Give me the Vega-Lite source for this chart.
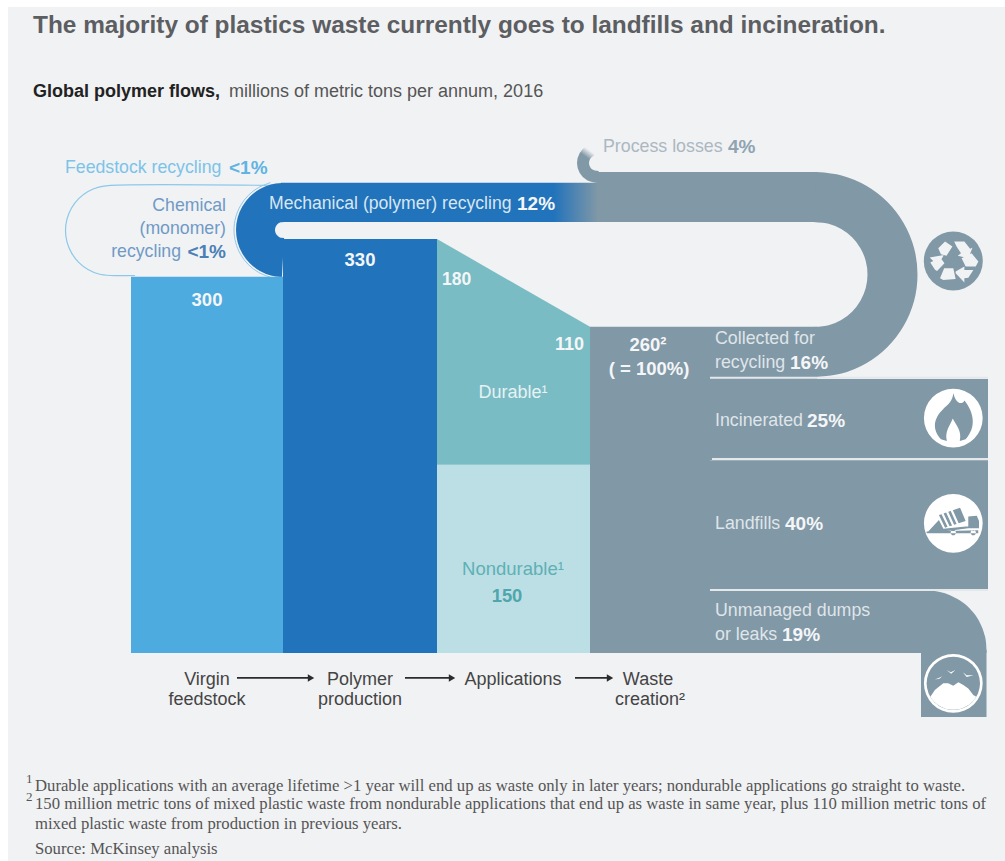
{
  "$schema": "https://vega.github.io/schema/vega-lite/v6.json",
  "width": 1005,
  "height": 861,
  "autosize": {"type": "fit", "contains": "padding"},
  "padding": 0,
  "background": "#ffffff",
  "view": {"stroke": null},
  "config": {"text": {"dy": 1}},
  "encoding": {
    "x": {"field": "x", "type": "quantitative", "scale": {"domain": [0, 1005], "nice": false, "zero": false}, "axis": null},
    "y": {"field": "y", "type": "quantitative", "scale": {"domain": [-165.8, 520.5], "nice": false, "zero": false}, "axis": null}
  },
  "layer": [
    {
      "data": {"values": [{"x": 8, "x2": 1005, "y": 514.9, "y2": -165.8}]},
      "mark": {"type": "rect", "color": "#f1f2f4"},
      "encoding": {"x2": {"field": "x2"}, "y2": {"field": "y2"}}
    },
    {
      "description": "Chemical recycling loop outline",
      "data": {"values": [
        {"n": 0, "x": 272, "y": 372.7}, {"n": 1, "x": 110.5, "y": 372.7}, {"n": 2, "x": 98.85, "y": 371.4},
        {"n": 3, "x": 88, "y": 367.9}, {"n": 4, "x": 78.68, "y": 362.2}, {"n": 5, "x": 71.53, "y": 354.7},
        {"n": 6, "x": 67.03, "y": 346.1}, {"n": 7, "x": 65.5, "y": 336.8}, {"n": 8, "x": 67.03, "y": 327.5},
        {"n": 9, "x": 71.53, "y": 318.9}, {"n": 10, "x": 78.68, "y": 311.4}, {"n": 11, "x": 88, "y": 305.7},
        {"n": 12, "x": 98.85, "y": 302.1}, {"n": 13, "x": 110.5, "y": 300.9}, {"n": 14, "x": 135, "y": 300.9}
      ]},
      "mark": {"type": "line", "interpolate": "catmull-rom", "stroke": "#8cc8ea", "strokeWidth": 1.2},
      "encoding": {"order": {"field": "n", "type": "quantitative"}}
    },
    {
      "data": {"values": [
        {"n": 0, "x": 270.3, "y": 374.9}, {"n": 1, "x": 258.5, "y": 371}, {"n": 2, "x": 248.35, "y": 364.8},
        {"n": 3, "x": 240.6, "y": 356.7}, {"n": 4, "x": 235.7, "y": 347.3}, {"n": 5, "x": 234, "y": 337.2},
        {"n": 6, "x": 235.7, "y": 327.1}, {"n": 7, "x": 240.6, "y": 317.7}, {"n": 8, "x": 248.35, "y": 309.6},
        {"n": 9, "x": 258.5, "y": 303.4}, {"n": 10, "x": 270.3, "y": 299.5}
      ]},
      "mark": {"type": "line", "interpolate": "catmull-rom", "stroke": "#8cc8ea", "strokeWidth": 1},
      "encoding": {"order": {"field": "n", "type": "quantitative"}}
    },
    {
      "description": "Mechanical recycling ribbon, fading from waste grey into polymer blue",
      "data": {"values": [{"x": 281, "x2": 598, "y": 374.8, "y2": 343.6}]},
      "mark": {"type": "rect", "color": {"gradient": "linear", "x1": 0, "y1": 0, "x2": 1, "y2": 0, "stops": [
        {"offset": 0, "color": "#2173bb"}, {"offset": 0.86, "color": "#2173bb"}, {"offset": 1, "color": "#8198a6"}
      ]}},
      "encoding": {"x2": {"field": "x2"}, "y2": {"field": "y2"}}
    },
    {
      "data": {"values": [
        {"n": 0, "x": 283, "y": 359.1}, {"n": 1, "x": 275.88, "y": 358.4}, {"n": 2, "x": 269.25, "y": 356.2},
        {"n": 3, "x": 263.55, "y": 352.7}, {"n": 4, "x": 259.18, "y": 348.1}, {"n": 5, "x": 256.44, "y": 342.9},
        {"n": 6, "x": 255.5, "y": 337.2}, {"n": 7, "x": 256.44, "y": 331.5}, {"n": 8, "x": 259.18, "y": 326.2},
        {"n": 9, "x": 263.55, "y": 321.7}, {"n": 10, "x": 269.25, "y": 318.2}, {"n": 11, "x": 275.88, "y": 316},
        {"n": 12, "x": 283, "y": 315.3}
      ]},
      "mark": {"type": "line", "interpolate": "catmull-rom", "stroke": "#2173bb", "strokeWidth": 39, "strokeCap": "butt"},
      "encoding": {"order": {"field": "n", "type": "quantitative"}}
    },
    {
      "description": "Stages and waste fates, in millions of metric tons",
      "data": {"values": [
        {"group": "Virgin feedstock", "x": 131, "x2": 283, "y": 300, "y2": 0},
        {"group": "Polymer production", "x": 283, "x2": 437, "y": 330, "y2": 0},
        {"group": "Nondurable", "x": 437, "x2": 590, "y": 150, "y2": 0},
        {"group": "Waste", "x": 590, "x2": 710, "y": 260, "y2": 0},
        {"group": "Waste", "x": 710, "x2": 817, "y": 260, "y2": 218.4},
        {"group": "Waste", "x": 710, "x2": 988, "y": 218.4, "y2": 153.4},
        {"group": "Waste", "x": 710, "x2": 988, "y": 153.4, "y2": 49.4},
        {"group": "Waste", "x": 710, "x2": 921, "y": 49.4, "y2": 0},
        {"group": "Waste", "x": 921, "x2": 986.5, "y": 2.4, "y2": -51},
        {"group": "Waste", "x": 597, "x2": 817, "y": 383.4, "y2": 343.6}
      ]},
      "mark": {"type": "rect"},
      "encoding": {
        "x2": {"field": "x2"},
        "y2": {"field": "y2"},
        "color": {"field": "group", "type": "nominal", "legend": null, "scale": {
          "domain": ["Virgin feedstock", "Polymer production", "Durable", "Nondurable", "Waste"],
          "range": ["#4eabdf", "#2173bb", "#79bcc4", "#bbdfe4", "#8198a6"]
        }}
      }
    },
    {
      "description": "Durable wedge narrows from 180 to 110 on top of the nondurable 150",
      "data": {"values": [
        {"x": 437, "y": 330, "y2": 150},
        {"x": 590, "y": 260, "y2": 150}
      ]},
      "mark": {"type": "area", "color": "#79bcc4"},
      "encoding": {"y2": {"field": "y2"}}
    },
    {
      "description": "Corner of the unmanaged dumps band",
      "data": {"values": [
        {"x": 921, "y": 49.4}, {"x": 927, "y": 49.8}, {"x": 940, "y": 48.7}, {"x": 950, "y": 46.1},
        {"x": 960, "y": 41.8}, {"x": 970, "y": 35.2}, {"x": 980, "y": 23.9}, {"x": 984, "y": 15.9},
        {"x": 986, "y": 8.5}, {"x": 986.5, "y": 2.4}
      ]},
      "mark": {"type": "area", "color": "#8198a6", "interpolate": "monotone"},
      "encoding": {"y2": {"datum": 0}}
    },
    {
      "description": "Recycling U-turn",
      "data": {"values": [
        {"n": 0, "x": 815, "y": 363.5}, {"n": 1, "x": 835.1, "y": 361.4}, {"n": 2, "x": 853.8, "y": 355.2},
        {"n": 3, "x": 869.8, "y": 345.4}, {"n": 4, "x": 882.1, "y": 332.6}, {"n": 5, "x": 889.9, "y": 317.7},
        {"n": 6, "x": 892.5, "y": 301.7}, {"n": 7, "x": 889.9, "y": 285.7}, {"n": 8, "x": 882.1, "y": 270.8},
        {"n": 9, "x": 869.8, "y": 258}, {"n": 10, "x": 853.8, "y": 248.2}, {"n": 11, "x": 835.1, "y": 242},
        {"n": 12, "x": 815, "y": 239.9}
      ]},
      "mark": {"type": "line", "interpolate": "catmull-rom", "stroke": "#8198a6", "strokeWidth": 50, "strokeCap": "butt"},
      "encoding": {"order": {"field": "n", "type": "quantitative"}}
    },
    {
      "description": "Process losses curl",
      "data": {"values": [
        {"n": 0, "x": 598, "y": 379.4}, {"n": 1, "x": 590, "y": 380.95}, {"n": 2, "x": 584.9, "y": 385},
        {"n": 3, "x": 583, "y": 390.6}, {"n": 4, "x": 584.9, "y": 396.2}, {"n": 5, "x": 590, "y": 400.2},
        {"n": 6, "x": 593, "y": 401.1}
      ]},
      "mark": {"type": "line", "interpolate": "catmull-rom", "strokeWidth": 12, "strokeCap": "butt", "stroke": {
        "gradient": "linear", "x1": 0, "y1": 1, "x2": 0.4, "y2": 0, "stops": [
          {"offset": 0, "color": "#8198a6"}, {"offset": 0.7, "color": "#8198a6"}, {"offset": 1, "color": "#f1f2f4"}
        ]}},
      "encoding": {"order": {"field": "n", "type": "quantitative"}}
    },
    {
      "description": "Light separators between the waste fates",
      "data": {"values": [
        {"x": 710, "x2": 988, "y": 219.4},
        {"x": 712, "x2": 988, "y": 154.6},
        {"x": 710, "x2": 988, "y": 50.2}
      ]},
      "mark": {"type": "rule", "color": "#e4e8eb", "strokeWidth": 2},
      "encoding": {"x2": {"field": "x2"}}
    },
    {
      "data": {"values": [{"x": 953.3, "y": 312.5}]},
      "mark": {"type": "point", "shape": "circle", "filled": true, "size": 3481, "color": "#8198a6", "opacity": 1}
    },
    {
      "description": "Recycling arrows",
      "data": {"values": [{"x": 953.3, "y": 312.5}]},
      "mark": {"type": "point", "filled": true, "size": 3481, "color": "#f1f2f4", "opacity": 1,
        "shape": "M-0.51,-0.43L-0.28,-0.66L-0.03,-0.49L-0.23,-0.18L-0.42,-0.23ZM0.03,-0.66L0.375,-0.66L0.57,-0.41L0.65,-0.45L0.51,-0.09L0.15,-0.18L0.26,-0.26L0.11,-0.49ZM0.28,-0.09L0.62,-0.26L0.85,0.02L0.76,0.19L0.42,0.19ZM0.08,0.36L0.375,0.19L0.375,0.31L0.68,0.31L0.51,0.57L0.375,0.59L0.375,0.73L0.08,0.42ZM-0.45,0.59L-0.31,0.25L0,0.25L0.08,0.61L-0.34,0.65ZM-0.8,-0.12L-0.32,-0.2L-0.4,-0.06L-0.3,0.08L-0.55,0.34L-0.62,0.3L-0.78,0.05L-0.68,0Z"}
    },
    {
      "description": "Discs behind the flame, truck and mound icons",
      "data": {"values": [{"x": 953.3, "y": 187.3}, {"x": 953.3, "y": 103.4}, {"x": 953.3, "y": -24.2}]},
      "mark": {"type": "point", "shape": "circle", "filled": true, "size": 3450, "color": "#ffffff", "opacity": 1}
    },
    {
      "description": "Flame",
      "data": {"values": [{"x": 953.3, "y": 187.3}]},
      "mark": {"type": "point", "filled": true, "size": 3450, "color": "#8198a6", "opacity": 1,
        "shape": "M0,-0.85C0.1,-0.45 0.3,-0.45 0.38,-0.6C0.7,-0.2 0.8,0.3 0.42,0.72L0.22,0.78C0.3,0.45 0.1,0.25 -0.02,0.02C-0.1,0.25 -0.3,0.45 -0.22,0.78L-0.42,0.72C-0.75,0.35 -0.65,0 -0.35,-0.3C-0.2,-0.45 -0.02,-0.55 0,-0.85Z"}
    },
    {
      "description": "Dump truck",
      "data": {"values": [{"x": 953.3, "y": 103.4}]},
      "mark": {"type": "point", "filled": true, "size": 3450, "color": "#8198a6", "opacity": 1,
        "shape": "M-0.49,-0.28L-0.4,-0.31L-0.196,0.122L-0.28,0.15ZM-0.33,-0.335L-0.245,-0.365L-0.042,0.072L-0.126,0.1ZM-0.173,-0.39L-0.087,-0.42L0.112,0.021L0.028,0.049ZM-0.015,-0.445L0.23,-0.53L0.42,-0.08L0.182,-0.002ZM0.51,-0.23L0.8,-0.26L0.875,-0.08L0.875,0.17L0.51,0.17ZM-0.34,0.19L0.51,0.1L0.51,0.17L-0.34,0.28ZM-0.91,0.34L-0.49,-0.11L-0.26,0.34ZM-0.91,0.28L0.85,0.24L0.85,0.34L-0.91,0.34ZM-0.09,0.32a0.09,0.09 0 1,0 0.18,0a0.09,0.09 0 1,0 -0.18,0ZM0.59,0.32a0.09,0.09 0 1,0 0.18,0a0.09,0.09 0 1,0 -0.18,0Z"}
    },
    {
      "data": {"values": [{"x": 953.3, "y": -24.2}]},
      "mark": {"type": "point", "shape": "circle", "filled": true, "size": 2850, "color": "#8198a6", "opacity": 1}
    },
    {
      "description": "Dump mound and birds",
      "data": {"values": [{"x": 953.3, "y": -24.2}]},
      "mark": {"type": "point", "filled": true, "size": 2850, "color": "#ffffff", "opacity": 1,
        "shape": "M-0.86,0.5L-0.69,0.25L-0.54,0.125L-0.375,0L-0.19,0L0,0.09L0.19,-0.04L0.375,0.06L0.56,0.19L0.75,0.44L0.86,0.5A1,1 0 0 1 -0.86,0.5ZM-0.69,-0.14L-0.55,-0.2L-0.41,-0.27L-0.52,-0.17ZM-0.25,-0.5L-0.1,-0.42L0.08,-0.5L-0.08,-0.36ZM0.36,-0.42L0.5,-0.3L0.76,-0.3L0.5,-0.24Z"}
    },
    {
      "description": "Stage flow arrows",
      "data": {"values": [
        {"x": 237, "x2": 310, "y": -19.9},
        {"x": 405, "x2": 450, "y": -19.9},
        {"x": 575, "x2": 608, "y": -19.9}
      ]},
      "mark": {"type": "rule", "color": "#2b2b2b", "strokeWidth": 1.8},
      "encoding": {"x2": {"field": "x2"}}
    },
    {
      "data": {"values": [{"x": 311, "y": -19.9}, {"x": 452, "y": -19.9}, {"x": 610, "y": -19.9}]},
      "mark": {"type": "point", "shape": "triangle-right", "filled": true, "size": 55, "color": "#2b2b2b", "opacity": 1}
    },
    {
      "data": {"values": [{"x": 33, "y": 500.6, "label": "The majority of plastics waste currently goes to landfills and incineration."}]},
      "mark": {"type": "text", "align": "left", "baseline": "middle", "font": "Liberation Sans", "fontWeight": "bold", "fontSize": 24.4, "color": "#5c5e62"},
      "encoding": {"text": {"field": "label"}}
    },
    {
      "data": {"values": [{"x": 33, "y": 448, "label": "Global polymer flows,"}]},
      "mark": {"type": "text", "align": "left", "baseline": "middle", "font": "Liberation Sans", "fontWeight": "bold", "fontSize": 18, "color": "#222222"},
      "encoding": {"text": {"field": "label"}}
    },
    {
      "data": {"values": [{"x": 229, "y": 448, "label": "millions of metric tons per annum, 2016"}]},
      "mark": {"type": "text", "align": "left", "baseline": "middle", "font": "Liberation Sans", "fontSize": 18, "color": "#555555"},
      "encoding": {"text": {"field": "label"}}
    },
    {
      "data": {"values": [{"x": 65, "y": 387.4, "label": "Feedstock recycling"}]},
      "mark": {"type": "text", "align": "left", "baseline": "middle", "font": "Liberation Sans", "fontSize": 17.7, "color": "#7cc3e8"},
      "encoding": {"text": {"field": "label"}}
    },
    {
      "data": {"values": [{"x": 229, "y": 387.4, "label": "<1%"}]},
      "mark": {"type": "text", "align": "left", "baseline": "middle", "font": "Liberation Sans", "fontWeight": "bold", "fontSize": 19, "color": "#5fb4e2"},
      "encoding": {"text": {"field": "label"}}
    },
    {
      "data": {"values": [
        {"x": 226, "y": 357.1, "label": "Chemical"},
        {"x": 226, "y": 338.8, "label": "(monomer)"},
        {"x": 181, "y": 320.4, "label": "recycling"}
      ]},
      "mark": {"type": "text", "align": "right", "baseline": "middle", "font": "Liberation Sans", "fontSize": 17.7, "color": "#6f9ac6"},
      "encoding": {"text": {"field": "label"}}
    },
    {
      "data": {"values": [{"x": 226, "y": 320.4, "label": "<1%"}]},
      "mark": {"type": "text", "align": "right", "baseline": "middle", "font": "Liberation Sans", "fontWeight": "bold", "fontSize": 19, "color": "#4a80b6"},
      "encoding": {"text": {"field": "label"}}
    },
    {
      "data": {"values": [{"x": 269, "y": 358.7, "label": "Mechanical (polymer) recycling"}]},
      "mark": {"type": "text", "align": "left", "baseline": "middle", "font": "Liberation Sans", "fontSize": 17.6, "color": "#d8e6f2"},
      "encoding": {"text": {"field": "label"}}
    },
    {
      "data": {"values": [{"x": 603, "y": 404.1, "label": "Process losses"}]},
      "mark": {"type": "text", "align": "left", "baseline": "middle", "font": "Liberation Sans", "fontSize": 17.8, "color": "#abb8c1"},
      "encoding": {"text": {"field": "label"}}
    },
    {
      "data": {"values": [{"x": 728, "y": 404.1, "label": "4%"}]},
      "mark": {"type": "text", "align": "left", "baseline": "middle", "font": "Liberation Sans", "fontWeight": "bold", "fontSize": 19, "color": "#8fa3b0"},
      "encoding": {"text": {"field": "label"}}
    },
    {
      "data": {"values": [
        {"x": 517, "y": 358.7, "label": "12%"},
        {"x": 790, "y": 232, "label": "16%"},
        {"x": 807, "y": 185.7, "label": "25%"},
        {"x": 785, "y": 103.6, "label": "40%"},
        {"x": 782, "y": 15.1, "label": "19%"}
      ]},
      "mark": {"type": "text", "align": "left", "baseline": "middle", "font": "Liberation Sans", "fontWeight": "bold", "fontSize": 19, "color": "#f4f6f8"},
      "encoding": {"text": {"field": "label"}}
    },
    {
      "data": {"values": [{"x": 442, "y": 298.1, "label": "180"}]},
      "mark": {"type": "text", "align": "left", "baseline": "middle", "font": "Liberation Sans", "fontWeight": "bold", "fontSize": 17.5, "color": "#f4f6f8"},
      "encoding": {"text": {"field": "label"}}
    },
    {
      "data": {"values": [
        {"x": 207, "y": 282.2, "label": "300"},
        {"x": 360, "y": 314.1, "label": "330"},
        {"x": 648, "y": 246.3, "label": "260²"},
        {"x": 649, "y": 227.2, "label": "( = 100%)"}
      ]},
      "mark": {"type": "text", "align": "center", "baseline": "middle", "font": "Liberation Sans", "fontWeight": "bold", "fontSize": 18.5, "color": "#f4f6f8"},
      "encoding": {"text": {"field": "label"}}
    },
    {
      "data": {"values": [{"x": 584, "y": 246.3, "label": "110"}]},
      "mark": {"type": "text", "align": "right", "baseline": "middle", "font": "Liberation Sans", "fontWeight": "bold", "fontSize": 18, "color": "#f4f6f8"},
      "encoding": {"text": {"field": "label"}}
    },
    {
      "data": {"values": [{"x": 513, "y": 208.1, "label": "Durable¹"}]},
      "mark": {"type": "text", "align": "center", "baseline": "middle", "font": "Liberation Sans", "fontSize": 18, "color": "#e6f2f4"},
      "encoding": {"text": {"field": "label"}}
    },
    {
      "data": {"values": [{"x": 513, "y": 67.8, "label": "Nondurable¹"}]},
      "mark": {"type": "text", "align": "center", "baseline": "middle", "font": "Liberation Sans", "fontSize": 18.5, "color": "#5fb0b5"},
      "encoding": {"text": {"field": "label"}}
    },
    {
      "data": {"values": [{"x": 507, "y": 46.2, "label": "150"}]},
      "mark": {"type": "text", "align": "center", "baseline": "middle", "font": "Liberation Sans", "fontWeight": "bold", "fontSize": 18.4, "color": "#4fa6ac"},
      "encoding": {"text": {"field": "label"}}
    },
    {
      "data": {"values": [
        {"x": 715, "y": 251.1, "label": "Collected for"},
        {"x": 715, "y": 232, "label": "recycling"},
        {"x": 715, "y": 185.7, "label": "Incinerated"},
        {"x": 715, "y": 103.6, "label": "Landfills"},
        {"x": 715, "y": 34.3, "label": "Unmanaged dumps"},
        {"x": 715, "y": 15.1, "label": "or leaks"}
      ]},
      "mark": {"type": "text", "align": "left", "baseline": "middle", "font": "Liberation Sans", "fontSize": 17.8, "color": "#dfe5e9"},
      "encoding": {"text": {"field": "label"}}
    },
    {
      "data": {"values": [
        {"x": 207, "y": -20.7, "label": "Virgin"},
        {"x": 207, "y": -36.7, "label": "feedstock"},
        {"x": 360, "y": -20.7, "label": "Polymer"},
        {"x": 360, "y": -36.7, "label": "production"},
        {"x": 513, "y": -20.7, "label": "Applications"},
        {"x": 648, "y": -20.7, "label": "Waste"},
        {"x": 650, "y": -36.7, "label": "creation²"}
      ]},
      "mark": {"type": "text", "align": "center", "baseline": "middle", "font": "Liberation Sans", "fontSize": 18, "color": "#444444"},
      "encoding": {"text": {"field": "label"}}
    },
    {
      "description": "Footnotes",
      "data": {"values": [
        {"x": 35, "y": -105.2, "label": "Durable applications with an average lifetime >1 year will end up as waste only in later years; nondurable applications go straight to waste."},
        {"x": 35, "y": -119.6, "label": "150 million metric tons of mixed plastic waste from nondurable applications that end up as waste in same year, plus 110 million metric tons of"},
        {"x": 35, "y": -135.5, "label": "mixed plastic waste from production in previous years."},
        {"x": 35, "y": -155.4, "label": "Source: McKinsey analysis"}
      ]},
      "mark": {"type": "text", "align": "left", "baseline": "middle", "font": "Liberation Serif", "fontSize": 16.7, "color": "#555555"},
      "encoding": {"text": {"field": "label"}}
    },
    {
      "data": {"values": [
        {"x": 26, "y": -99.6, "label": "1"},
        {"x": 26, "y": -114, "label": "2"}
      ]},
      "mark": {"type": "text", "align": "left", "baseline": "middle", "font": "Liberation Serif", "fontSize": 13, "color": "#555555"},
      "encoding": {"text": {"field": "label"}}
    }
  ]
}
